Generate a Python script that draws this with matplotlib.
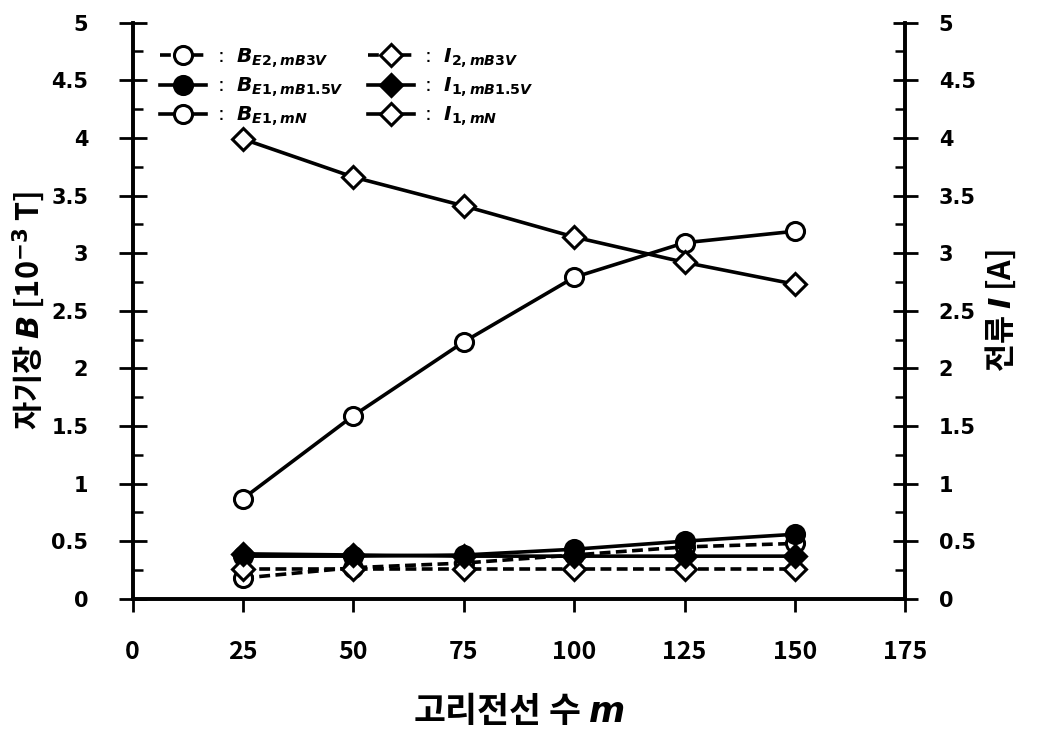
import matplotlib
matplotlib.use("Agg")
import matplotlib.pyplot as plt
from matplotlib.ticker import MultipleLocator, FuncFormatter

plt.rcParams["font.family"] = ["DejaVu Sans"]
plt.rcParams["mathtext.fontset"] = "custom"
plt.rcParams["mathtext.it"] = "DejaVu Sans:italic:bold"
plt.rcParams["mathtext.rm"] = "DejaVu Sans:bold"
plt.rcParams["mathtext.bf"] = "DejaVu Sans:bold"

KR = ["Noto Sans CJK KR", "DejaVu Sans"]

# number of loop wires
m = [25, 50, 75, 100, 125, 150]

# magnetic field [1e-3 T]
b_e2_mb3v = [0.18, 0.27, 0.31, 0.38, 0.45, 0.48]
b_e1_mb15v = [0.37, 0.37, 0.38, 0.43, 0.50, 0.56]
b_e1_mn = [0.87, 1.59, 2.23, 2.79, 3.09, 3.19]

# current [A]
i_2_mb3v = [0.26, 0.26, 0.26, 0.26, 0.26, 0.26]
i_1_mb15v = [0.39, 0.38, 0.37, 0.37, 0.37, 0.37]
i_1_mn = [3.99, 3.66, 3.41, 3.14, 2.92, 2.73]

fig = plt.figure(figsize=(10.37, 7.32), dpi=100)
ax = fig.add_axes([0.128, 0.182, 0.745, 0.787])
ax2 = ax.twinx()

dashed = (0, (3, 1.5))
circ = dict(color="black", lw=2.6, markersize=13, markeredgewidth=2.2, markeredgecolor="black")
dia = dict(circ, markersize=11)

h1, = ax.plot(m, b_e2_mb3v, ls=dashed, marker="o", markerfacecolor="white", **circ)
h2, = ax.plot(m, b_e1_mb15v, ls="-", marker="o", markerfacecolor="black", **circ)
h3, = ax.plot(m, b_e1_mn, ls="-", marker="o", markerfacecolor="white", **circ)
h4, = ax2.plot(m, i_2_mb3v, ls=dashed, marker="D", markerfacecolor="white", **dia)
h5, = ax2.plot(m, i_1_mb15v, ls="-", marker="D", markerfacecolor="black", **dia)
h6, = ax2.plot(m, i_1_mn, ls="-", marker="D", markerfacecolor="white", **dia)

ax.set_xlim(0, 175)
ax.set_ylim(0, 5)
ax2.set_ylim(0, 5)
ax.xaxis.set_major_locator(MultipleLocator(25))
for a in (ax, ax2):
    a.yaxis.set_major_locator(MultipleLocator(0.5))
    a.yaxis.set_minor_locator(MultipleLocator(0.25))
    a.yaxis.set_major_formatter(FuncFormatter(lambda v, p: f"{v:g}"))
    for side in ("left", "right", "bottom"):
        a.spines[side].set_linewidth(2.6)
    a.spines["top"].set_visible(False)

ax.tick_params(axis="x", direction="out", length=9, width=2, pad=21)
ax.tick_params(axis="y", which="major", direction="inout", length=20, width=2, pad=22, labelsize=15)
ax.tick_params(axis="y", which="minor", direction="in", length=7, width=1.8)
ax2.tick_params(axis="y", which="major", direction="inout", length=18, width=2, pad=15, labelsize=15)
ax2.tick_params(axis="y", which="minor", direction="in", length=7, width=1.8)
for lab in ax.get_xticklabels():
    lab.set_family(KR)
    lab.set_fontweight("bold")
    lab.set_fontsize(18)
for lab in ax.get_yticklabels() + ax2.get_yticklabels():
    lab.set_fontweight("bold")

ax.set_xlabel("고리전선 수 $m$", family=KR, fontsize=25, fontweight="bold", labelpad=20)
ax.set_ylabel("자기장 $B$ [10$^{-3}$ T]", family=KR, fontsize=22, fontweight="bold", labelpad=3)
ax2.set_ylabel("전류 $I$ [A]", family=KR, fontsize=22, fontweight="bold", labelpad=6, rotation=90)

labels = [r":  $B_{E2,mB3V}$", r":  $B_{E1,mB1.5V}$", r":  $B_{E1,mN}$",
          r":  $I_{2,mB3V}$", r":  $I_{1,mB1.5V}$", r":  $I_{1,mN}$"]
leg = ax2.legend([h1, h2, h3, h4, h5, h6], labels, ncol=2, loc="upper left",
                 bbox_to_anchor=(0.012, 0.99), frameon=False, fontsize=14.5,
                 handlelength=2.3, handletextpad=0.5, columnspacing=1.2,
                 labelspacing=0.3)

fig.savefig("out.png", dpi=100)
